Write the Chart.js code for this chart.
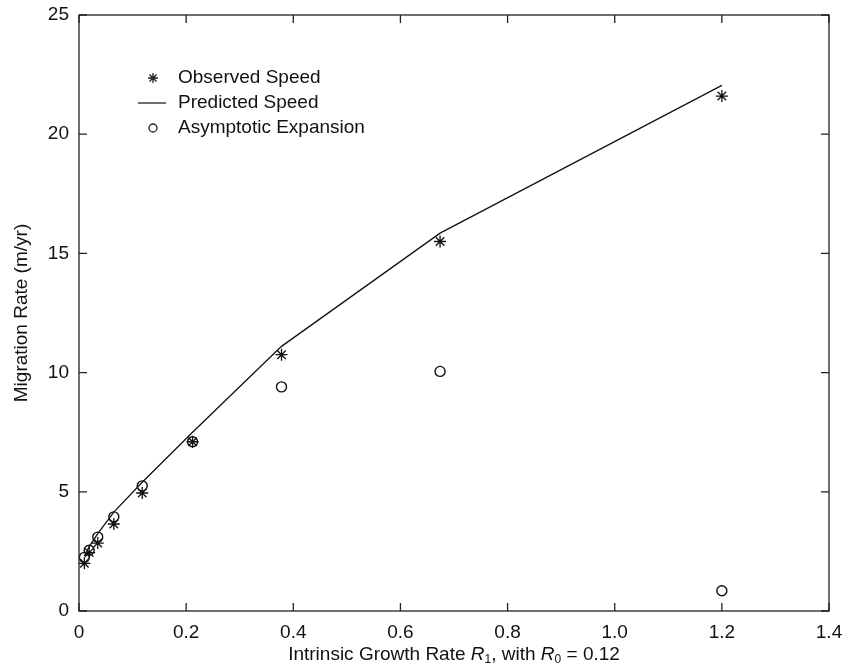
<!DOCTYPE html>
<html lang="en">

<head>
    <meta charset="UTF-8">
    <script src="https://cdn.jsdelivr.net/npm/chart.js"></script>
    <title>Migration Rate vs Intrinsic Growth Rate</title>
    <style>
        html, body { margin: 0; padding: 0; background: #fff; }
        #wrap { width: 843px; height: 670px; }
    </style>
</head>

<body>
    <div id="wrap">
        <canvas id="grafico" width="843" height="670"></canvas>
    </div>
</body>

</html>

<script>
    // growth rate R1 values
    var r1 = [0.01, 0.019, 0.035, 0.065, 0.118, 0.212, 0.378, 0.674, 1.2]
    var observado = [2.0, 2.45, 2.85, 3.65, 4.95, 7.1, 10.75, 15.5, 21.6]
    var previsto = [2.3, 2.7, 3.25, 4.15, 5.4, 7.5, 11.1, 15.85, 22.05]
    var assintotico = [2.25, 2.55, 3.1, 3.95, 5.25, 7.1, 9.4, 10.05, 0.85]

    var xTicks = [0, 0.2, 0.4, 0.6, 0.8, 1.0, 1.2, 1.4]
    var yTicks = [0, 5, 10, 15, 20, 25]

    var legendas = ['Observed Speed', 'Predicted Speed', 'Asymptotic Expansion']

    var fonte = '"Liberation Sans", Arial, Helvetica, sans-serif'

    function pares(ys) {
        return r1.map((x, i) => ({ x: x, y: ys[i] }))
    }

    // box, inward ticks, legend and x title
    var extras = {
        id: 'extras',
        afterDraw(chart) {
            var ctx = chart.ctx
            var a = chart.chartArea
            var sx = chart.scales.x
            var sy = chart.scales.y
            ctx.save()
            ctx.strokeStyle = '#222'
            ctx.lineWidth = 1.3
            ctx.strokeRect(a.left, a.top, a.right - a.left, a.bottom - a.top)

            var t = 8
            ctx.beginPath()
            xTicks.forEach(v => {
                var px = sx.getPixelForValue(v)
                ctx.moveTo(px, a.bottom); ctx.lineTo(px, a.bottom - t)
                ctx.moveTo(px, a.top); ctx.lineTo(px, a.top + t)
            })
            yTicks.forEach(v => {
                var py = sy.getPixelForValue(v)
                ctx.moveTo(a.left, py); ctx.lineTo(a.left + t, py)
                ctx.moveTo(a.right, py); ctx.lineTo(a.right - t, py)
            })
            ctx.stroke()

            // legend
            ctx.fillStyle = '#111'
            ctx.font = '19px ' + fonte
            ctx.textBaseline = 'middle'
            var lx = 153, ly = 78, dy = 25
            legendas.forEach((txt, i) => {
                var y = ly + i * dy
                ctx.fillText(txt, lx + 25, y)
            })
            // symbols
            ctx.lineWidth = 1.3
            Chart.helpers.drawPoint(ctx, { pointStyle: 'star', radius: 5, borderWidth: 1.3, rotation: 0 }, lx, ly)
            ctx.beginPath()
            ctx.moveTo(lx - 15, ly + dy); ctx.lineTo(lx + 13, ly + dy)
            ctx.stroke()
            ctx.fillStyle = 'rgba(0,0,0,0)'
            Chart.helpers.drawPoint(ctx, { pointStyle: 'circle', radius: 4, borderWidth: 1.3, rotation: 0 }, lx, ly + 2 * dy)
            ctx.fillStyle = '#111'

            // x axis title with italic R and subscripts
            var partes = [
                { t: 'Intrinsic Growth Rate ', f: '19px ' + fonte, d: 0 },
                { t: 'R', f: 'italic 19px ' + fonte, d: 0 },
                { t: '1', f: '12px ' + fonte, d: 5 },
                { t: ', with ', f: '19px ' + fonte, d: 0 },
                { t: 'R', f: 'italic 19px ' + fonte, d: 0 },
                { t: '0', f: '12px ' + fonte, d: 5 },
                { t: ' = 0.12', f: '19px ' + fonte, d: 0 }
            ]
            var total = 0
            partes.forEach(p => { ctx.font = p.f; p.w = ctx.measureText(p.t).width; total += p.w })
            var x0 = (a.left + a.right) / 2 - total / 2
            var yb = 655
            ctx.textBaseline = 'middle'
            ctx.textAlign = 'left'
            partes.forEach(p => {
                ctx.font = p.f
                ctx.fillText(p.t, x0, yb + p.d)
                x0 += p.w
            })
            ctx.restore()
        }
    }

    var grafico = new Chart(document.getElementById('grafico').getContext('2d'), {
        type: 'scatter',
        data: {
            datasets: [{
                label: legendas[0],
                data: pares(observado),
                pointStyle: 'star',
                pointRadius: 6,
                borderColor: '#111',
                borderWidth: 1.3,
                showLine: false
            },
            {
                label: legendas[1],
                data: pares(previsto),
                showLine: true,
                pointRadius: 0,
                borderColor: '#111',
                borderWidth: 1.3,
                tension: 0
            },
            {
                label: legendas[2],
                data: pares(assintotico),
                pointStyle: 'circle',
                pointRadius: 5,
                backgroundColor: 'rgba(0,0,0,0)',
                borderColor: '#111',
                borderWidth: 1.4,
                showLine: false
            }]
        },
        plugins: [extras],
        options: {
            responsive: false,
            animation: false,
            layout: { padding: { left: 0, right: 14, top: 15, bottom: 0 } },
            plugins: {
                legend: { display: false },
                tooltip: { enabled: false }
            },
            scales: {
                x: {
                    type: 'linear',
                    min: 0,
                    max: 1.4,
                    afterFit: s => { s.height = 59; s.paddingLeft = 0; s.paddingRight = 0 },
                    afterBuildTicks: s => { s.ticks = xTicks.map(v => ({ value: v })) },
                    grid: { display: false, drawTicks: false },
                    border: { display: false },
                    ticks: {
                        color: '#111',
                        padding: 10,
                        font: { family: fonte, size: 19 },
                        callback: v => v === 0 ? '0' : v.toFixed(1)
                    }
                },
                y: {
                    type: 'linear',
                    min: 0,
                    max: 25,
                    afterFit: s => { s.width = 79; s.paddingTop = 0; s.paddingBottom = 0 },
                    afterBuildTicks: s => { s.ticks = yTicks.map(v => ({ value: v })) },
                    grid: { display: false, drawTicks: false },
                    border: { display: false },
                    title: {
                        display: true,
                        text: 'Migration Rate (m/yr)',
                        color: '#111',
                        font: { family: fonte, size: 19 },
                        padding: { top: 10, bottom: 0 }
                    },
                    ticks: {
                        color: '#111',
                        padding: 10,
                        font: { family: fonte, size: 19 }
                    }
                }
            }
        }
    });
</script>
